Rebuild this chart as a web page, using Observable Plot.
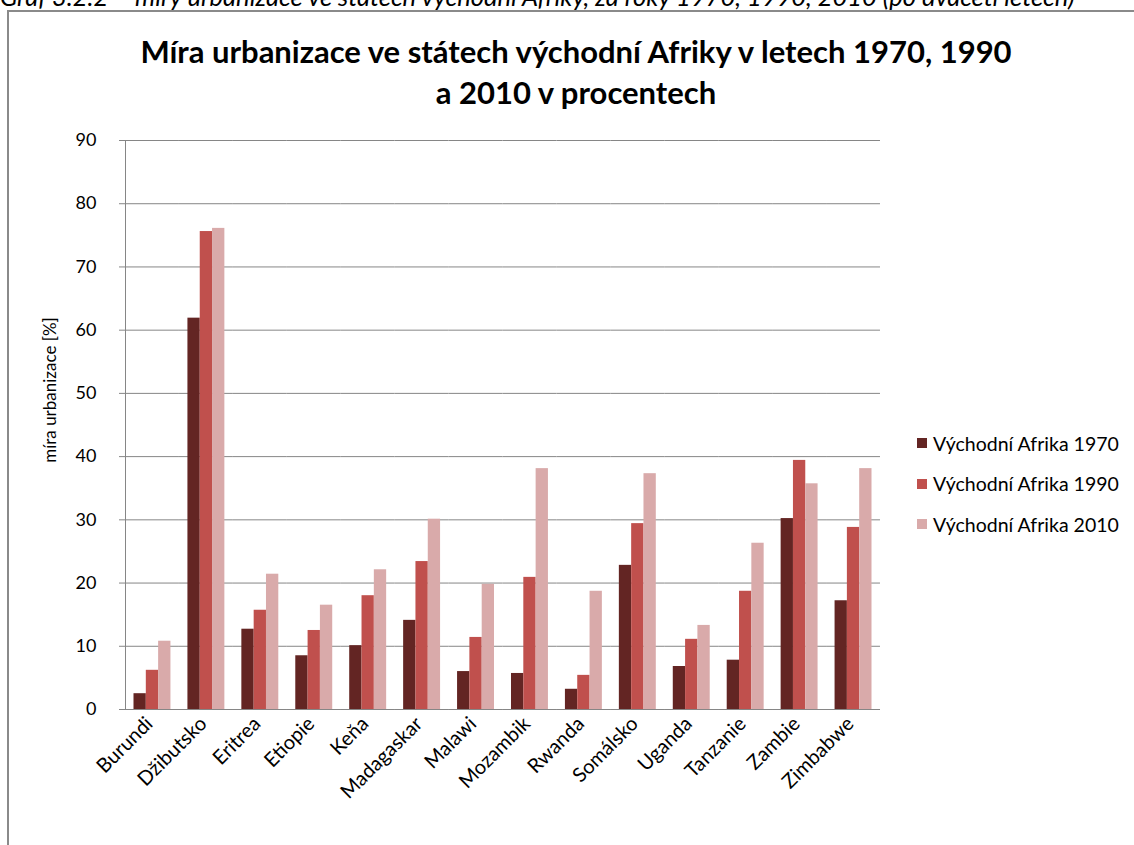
<!DOCTYPE html>
<html>
<head>
<meta charset="utf-8">
<script src="https://cdn.jsdelivr.net/npm/d3@7"></script>
<script src="https://cdn.jsdelivr.net/npm/@observablehq/plot@0.6"></script>
<style>
  html, body { margin: 0; padding: 0; background: #fff; }
  #wrap { position: relative; width: 1134px; height: 845px; overflow: hidden; font-family: Lato, "Open Sans", sans-serif; color: #000; }
  #wrap svg { position: absolute; left: 0; top: 0; }
  #caption { position: absolute; left: 0; top: -19px; font-size: 25.5px; font-style: italic; white-space: nowrap; }
  #border { position: absolute; left: 7px; top: 10px; width: 1200px; height: 900px; border-top: 2px solid #8a8a8a; border-left: 2px solid #8a8a8a; box-sizing: border-box; }
  #title { position: absolute; left: 0; width: 1152px; top: 31px; text-align: center; font-size: 31px; font-weight: bold; line-height: 41px; }
  #legend { position: absolute; left: 917px; top: 423px; font-size: 19.5px; }
  .item { display: flex; align-items: center; height: 40.5px; }
  .sw { width: 10px; height: 10px; margin-right: 6px; }
  #ylabel { position: absolute; left: 49px; top: 390px; font-size: 17px; white-space: nowrap; transform: translate(-50%, -50%) rotate(-90deg); }
</style>
</head>
<body>
<div id="wrap">
  <div id="border"></div>
  <div id="caption">Graf 3.2.2 – míry urbanizace ve státech východní Afriky, za roky 1970, 1990, 2010 (po dvaceti letech)</div>
  <div id="title">Míra urbanizace ve státech východní Afriky v letech 1970, 1990<br>a 2010 v procentech</div>
  <div id="legend"></div>
  <div id="ylabel">míra urbanizace [%]</div>
</div>
<script>
const countries = ["Burundi", "Džibutsko", "Eritrea", "Etiopie", "Keňa", "Madagaskar", "Malawi", "Mozambik", "Rwanda", "Somálsko", "Uganda", "Tanzanie", "Zambie", "Zimbabwe"];
const years = ["1970", "1990", "2010"];
const v1970 = [2.5, 61.9, 12.7, 8.5, 10.1, 14.1, 6.0, 5.7, 3.2, 22.8, 6.8, 7.8, 30.2, 17.2];
const v1990 = [6.2, 75.6, 15.7, 12.5, 18.0, 23.4, 11.4, 20.9, 5.4, 29.4, 11.1, 18.7, 39.4, 28.8];
const v2010 = [10.8, 76.1, 21.4, 16.5, 22.1, 30.1, 19.8, 38.1, 18.7, 37.3, 13.3, 26.3, 35.7, 38.1];
const yTicks = [0, 10, 20, 30, 40, 50, 60, 70, 80, 90];
const seriesLabels = ["Východní Afrika 1970", "Východní Afrika 1990", "Východní Afrika 2010"];
const colors = ["#632523", "#c0504d", "#d9aaaa"];

const series = [v1970, v1990, v2010];
const table = [];
countries.forEach((c, i) => years.forEach((y, j) => table.push({country: c, year: y, value: series[j][i]})));

const gridColor = "#868686";

const chart = Plot.plot({
  width: 1134,
  height: 845,
  marginLeft: 125,
  marginRight: 254,
  marginTop: 140,
  marginBottom: 136,
  style: {fontFamily: "Lato, 'Open Sans', sans-serif", color: "#000", background: "transparent"},
  fx: {domain: countries, padding: 0, round: false, label: null},
  x: {domain: years, paddingInner: 0, paddingOuter: 0.69, round: false, axis: null},
  y: {domain: [0, 90], label: null},
  color: {domain: years, range: colors},
  marks: [
    Plot.gridY(yTicks, {stroke: gridColor, strokeOpacity: 1, strokeWidth: 1}),
    Plot.barY(table, {fx: "country", x: "year", y: "value", fill: "year"}),
    Plot.ruleY([0], {stroke: gridColor, strokeWidth: 1}),
    Plot.frame({anchor: "left", facetAnchor: "left", stroke: gridColor}),
    Plot.axisY(yTicks, {tickSize: 6, tickPadding: 23, fontSize: 18, stroke: gridColor, fill: "#000", label: null}),
    Plot.axisFx({anchor: "bottom", tickRotate: -45, tickSize: 0, tickPadding: 11, dx: -3, fontSize: 20, fill: "#000", label: null})
  ]
});
document.getElementById("wrap").appendChild(chart);

const legend = document.getElementById("legend");
seriesLabels.forEach((t, i) => {
  const d = document.createElement("div");
  d.className = "item";
  d.innerHTML = `<span class="sw" style="background:${colors[i]}"></span><span>${t}</span>`;
  legend.appendChild(d);
});
</script>
</body>
</html>
